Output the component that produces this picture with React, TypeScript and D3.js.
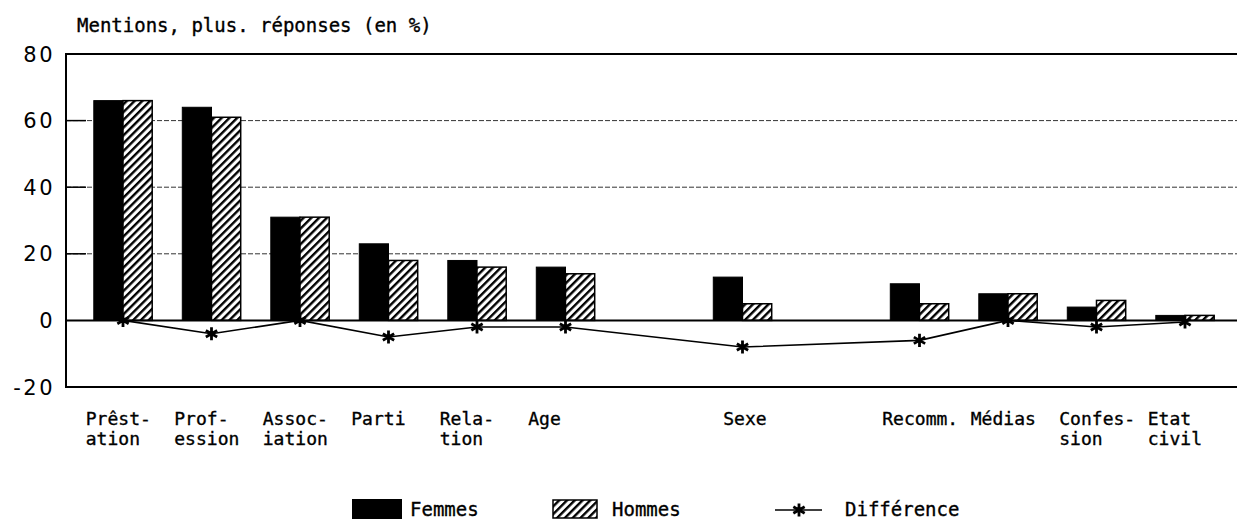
import * as d3 from 'd3';

// values (percent of mentions)
const categories = ["Prêst-|ation", "Prof-|ession", "Assoc-|iation", "Parti", "Rela-|tion", "Age", "Sexe", "Recomm.", "Médias", "Confes-|sion", "Etat|civil"];
const femmes = [66, 64, 31, 23, 18, 16, 13, 11, 8, 4, 1.5];
const hommes = [66, 61, 31, 18, 16, 14, 5, 5, 8, 6, 1.5];
const difference = [0, -4, 0, -5, -2, -2, -8, -6, 0, -2, -0.5];
// the original leaves an empty column before these two
const gapsBefore = ["Sexe", "Recomm."];
const yTicks = [-20, 0, 20, 40, 60, 80];
const seriesNames = ["Femmes", "Hommes"];

const W = 1237;
const H = 523;
const LEFT = 66;
const MONO = "'DejaVu Sans Mono', 'Liberation Mono', monospace";

export default function App() {
  const slots: string[] = [];
  categories.forEach((c) => {
    if (gapsBefore.includes(c)) slots.push("gap:" + c);
    slots.push(c);
  });

  const x = d3.scaleBand<string>()
    .domain(slots)
    .range([78.75, 1229.25])
    .paddingInner(0.34)
    .paddingOuter(0.17);

  const x1 = d3.scaleBand<string>()
    .domain(seriesNames)
    .range([0, x.bandwidth()]);

  const y = d3.scaleLinear().domain([-20, 80]).range([387, 54]);

  const center = (c: string) => (x(c) ?? 0) + x.bandwidth() / 2;

  const diffLine = d3.line<number>()
    .x((_, i) => center(categories[i]))
    .y((d) => y(d));

  const star = d3.symbol().type(d3.symbolAsterisk).size(120)() || "";

  // the typed labels sit at slightly uneven places; Sexe is set in a bit
  const labelX = (c: string) => (x(c) ?? 0) - 8 + (c === "Sexe" ? 18 : 0);

  const monoText = { fontFamily: MONO, fill: "#000", stroke: "#000", strokeWidth: 0.35 };

  return (
    <svg width={W} height={H} style={{ position: 'absolute', left: 0, top: 0, background: '#fff' }}>
      <defs>
        <pattern id="hatch" width={5.5} height={5.5} patternUnits="userSpaceOnUse" patternTransform="rotate(45)">
          <rect width={5.5} height={5.5} fill="#fff" />
          <line x1={1.2} y1={0} x2={1.2} y2={5.5} stroke="#000" strokeWidth={2.4} />
        </pattern>
      </defs>

      <text x={77} y={32} fontSize={19} {...monoText}>Mentions, plus. réponses (en %)</text>

      {/* gridlines */}
      {yTicks.filter((t) => t > 0 && t < 80).map((t) => (
        <g key={t}>
          <line x1={LEFT} x2={W} y1={y(t)} y2={y(t)} stroke="#333" strokeWidth={1} strokeDasharray="5 2" />
          <line x1={LEFT} x2={LEFT + 20} y1={y(t)} y2={y(t)} stroke="#000" strokeWidth={1.5} />
        </g>
      ))}
      <line x1={LEFT} x2={W} y1={y(80)} y2={y(80)} stroke="#000" strokeWidth={2} />
      <line x1={LEFT} x2={W} y1={y(-20)} y2={y(-20)} stroke="#000" strokeWidth={2} />
      <line x1={LEFT} x2={LEFT} y1={y(80) - 1} y2={y(-20) + 1} stroke="#000" strokeWidth={2} />

      {/* y tick labels */}
      {yTicks.map((t) => (
        <text key={t} x={55} y={y(t)} dy="0.36em" textAnchor="end" fontFamily="'DejaVu Sans', sans-serif"
          fontSize={21} letterSpacing={2.5} fill="#000">{t}</text>
      ))}

      {/* bars */}
      {categories.map((c, i) => (
        <g key={c} transform={`translate(${x(c)},0)`}>
          <rect x={x1("Femmes")} y={y(femmes[i])} width={x1.bandwidth()} height={y(0) - y(femmes[i])}
            fill="#000" stroke="#000" strokeWidth={1} />
          <rect x={x1("Hommes")} y={y(hommes[i])} width={x1.bandwidth()} height={y(0) - y(hommes[i])}
            fill="url(#hatch)" stroke="#000" strokeWidth={1.5} />
        </g>
      ))}

      <line x1={LEFT} x2={W} y1={y(0)} y2={y(0)} stroke="#000" strokeWidth={2} />

      {/* difference line */}
      <path d={diffLine(difference) || ""} fill="none" stroke="#000" strokeWidth={1.6} />
      {difference.map((d, i) => (
        <path key={i} d={star} transform={`translate(${center(categories[i])},${y(d)})`}
          fill="none" stroke="#000" strokeWidth={2.8} />
      ))}

      {/* category labels, two typed lines each */}
      {categories.map((c) =>
        c.split("|").map((part, j) => (
          <text key={c + j} x={labelX(c)} y={425 + j * 20} fontSize={18} {...monoText}>{part}</text>
        ))
      )}

      {/* legend */}
      <rect x={352} y={499} width={50} height={20} fill="#000" />
      <text x={410} y={516} fontSize={19} {...monoText}>{seriesNames[0]}</text>
      <rect x={553} y={500} width={44} height={18} fill="url(#hatch)" stroke="#000" strokeWidth={1.5} />
      <text x={612} y={516} fontSize={19} {...monoText}>{seriesNames[1]}</text>
      <line x1={775} x2={822} y1={510} y2={510} stroke="#000" strokeWidth={1.6} />
      <path d={star} transform="translate(799,510)" fill="none" stroke="#000" strokeWidth={2.8} />
      <text x={845} y={516} fontSize={19} {...monoText}>Différence</text>
    </svg>
  );
}
